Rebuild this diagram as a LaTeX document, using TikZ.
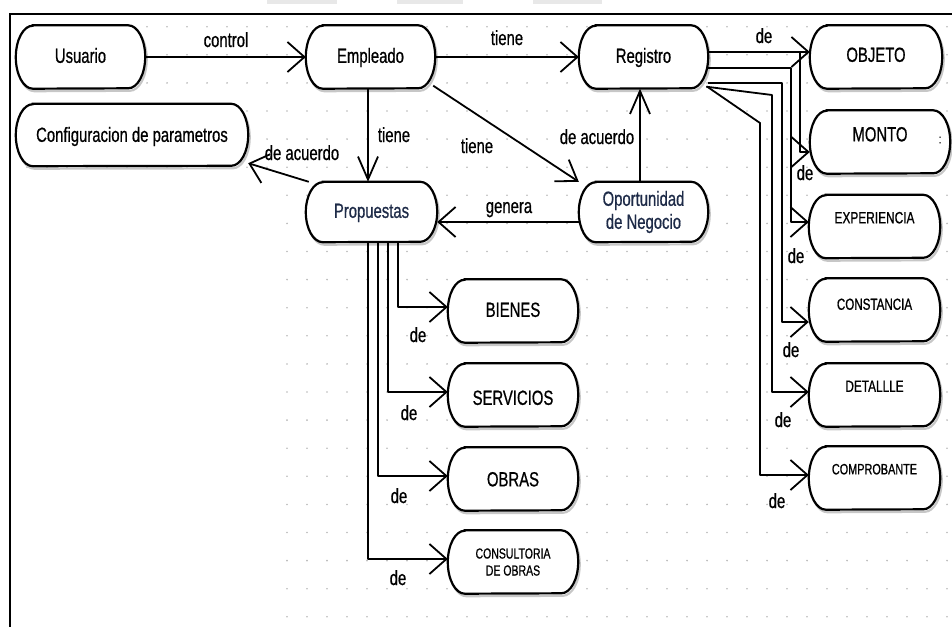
\documentclass[tikz,border=0pt]{standalone}
\usepackage{fontspec}
\setmainfont{Liberation Sans}[FakeStretch=0.725, FakeBold=0.7]
\usetikzlibrary{arrows.meta}
\pgfdeclarelayer{grid}
\pgfdeclarelayer{bg}
\pgfsetlayers{grid,bg,main}

\definecolor{navytext}{HTML}{1E2B48}
\newcommand\fsz[2]{\fontsize{#1}{#2}\selectfont}
\newcommand\prx{17pt}

\tikzset{
  pillnode/.style={minimum width=129pt, minimum height=63pt, inner sep=0pt,
    font=\fsz{20.5pt}{23pt}},
  txtbox/.style 2 args={text height=#1, text depth=#2},
  conn/.style={line width=1.8pt, line join=round},
  harr/.style={conn, -{Straight Barb[length=17pt,width=30pt]}},
  varr/.style={conn, -{Straight Barb[length=23pt,width=20pt]}},
  darr/.style={conn, -{Straight Barb[length=19pt,width=26pt]}},
  lbl/.style={font=\fsz{20.5pt}{23pt}, anchor=base, inner sep=0pt},
  pilloutline/.style={draw, line width=2.2pt, fill=white},
  pillshadow/.style={draw=black!22, line width=2.2pt},
  griddot/.style={fill=black!28},
}

% stadium outline behind a node: #1 half height, #2 node name
\newcommand\pillfor[2][31.5pt]{%
  \begin{pgfonlayer}{bg}
    \draw[pillshadow, transform canvas={xshift=1.5pt,yshift=-2.5pt}]
      ([xshift=\prx]#2.north west) -- ([xshift=-\prx]#2.north east)
      arc[start angle=90, end angle=-90, x radius=\prx, y radius=#1]
      -- ([xshift=\prx]#2.south west)
      arc[start angle=270, end angle=90, x radius=\prx, y radius=#1] -- cycle;
    \draw[pilloutline]
      ([xshift=\prx]#2.north west) -- ([xshift=-\prx]#2.north east)
      arc[start angle=90, end angle=-90, x radius=\prx, y radius=#1]
      -- ([xshift=\prx]#2.south west)
      arc[start angle=270, end angle=90, x radius=\prx, y radius=#1] -- cycle;
  \end{pgfonlayer}}

\begin{document}
\begin{tikzpicture}[x=1pt, y=-1pt]
\useasboundingbox (0,0) rectangle (952,626);

% faint marks above the frame
\fill[black!9] (267,0) rectangle (337,4);
\fill[black!9] (397,0) rectangle (463,4);
\fill[black!9] (533,0) rectangle (602,4);

% canvas frame
\draw[line width=2pt] (970,14) -- (10,14) -- (10,650);

% dotted canvas grid
\begin{pgfonlayer}{grid}
  \foreach \k in {0,...,5}{
    \foreach \j in {1,...,47}{
      \fill[griddot] (7+20*\j, 26.7+28.1*\k) circle[radius=0.9pt];}}
  \foreach \k in {6,...,21}{
    \foreach \j in {14,...,47}{
      \fill[griddot] (7+20*\j, 26.7+28.1*\k) circle[radius=0.9pt];}}
\end{pgfonlayer}

% nodes
\node[pillnode, txtbox={14.7pt}{3pt}] (usr) at (80.5,57) {Usuario};
\node[pillnode, txtbox={14.7pt}{3pt}] (emp) at (370.5,57) {Empleado};
\node[pillnode, minimum width=232pt, minimum height=62pt, txtbox={14.7pt}{1pt}] (cfg) at (132,135) {Configuracion de parametros};
\node[pillnode, minimum width=131pt, minimum height=60pt, txtbox={14.7pt}{3pt}, text=navytext] (prop) at (371.5,212) {Propuestas};
\node[pillnode, txtbox={14.7pt}{3pt}] (reg) at (643.5,57) {Registro};
\node[pillnode, minimum height=60pt, align=center, text=navytext] (opo) at (643.5,212) {Oportunidad\\de Negocio};
\node[pillnode, minimum width=132pt, txtbox={14.7pt}{5pt}] (obj) at (876,57) {OBJETO};
\node[pillnode, minimum width=140pt, txtbox={14.7pt}{16pt}] (monto) at (880,142) {MONTO};
\node[pillnode, minimum width=131pt, font=\fsz{16.4pt}{18pt}, txtbox={11.7pt}{18pt}] (exp) at (874.5,226.5) {EXPERIENCIA};
\node[pillnode, minimum width=131pt, font=\fsz{16pt}{18pt}, txtbox={11.5pt}{12pt}] (cons) at (874.5,310) {CONSTANCIA};
\node[pillnode, minimum width=131pt, font=\fsz{16.3pt}{18pt}, txtbox={11.7pt}{18pt}] (det) at (874.5,395) {DETALLLE};
\node[pillnode, minimum width=131pt, font=\fsz{15pt}{17pt}, txtbox={10.7pt}{18pt}] (comp) at (874.5,478) {COMPROBANTE};
\node[pillnode, minimum width=130pt, txtbox={14.7pt}{3pt}] (bien) at (513,311) {BIENES};
\node[pillnode, minimum width=130pt, txtbox={19.7pt}{0pt}] (serv) at (513,395) {SERVICIOS};
\node[pillnode, minimum width=130pt, txtbox={14.7pt}{0pt}] (obras) at (513,479) {OBRAS};
\node[pillnode, minimum width=130pt, align=center, font=\fsz{14.5pt}{17pt}] (consu) at (513,562) {CONSULTORIA\\DE OBRAS};
\node[font=\fsz{13pt}{14pt}, inner sep=0pt] (mcolon) at (940,140) {:};

\pillfor{usr}
\pillfor{emp}
\pillfor[31pt]{cfg}
\pillfor[30pt]{prop}
\pillfor{reg}
\pillfor[30pt]{opo}
\pillfor{obj}
\pillfor{monto}
\pillfor{exp}
\pillfor{cons}
\pillfor{det}
\pillfor{comp}
\pillfor{bien}
\pillfor{serv}
\pillfor{obras}
\pillfor{consu}

% connectors
\draw[harr] (usr) -- (emp);
\draw[harr] (emp) -- (reg);
\draw[varr] ([xshift=-2.5pt]emp.south) -- ([xshift=-2.5pt]emp.south |- prop.north);
\draw[darr] ([xshift=-2pt,yshift=3pt]emp.south east) -- (opo.north west);
\draw[harr] ([xshift=3pt]prop.north west) -- ([yshift=3pt]cfg.south east);
\draw[harr] ([yshift=-10pt]opo.west) -- ([yshift=-10pt]opo.west -| prop.east);
\draw[varr] ([xshift=-3.5pt]opo.north) -- ([xshift=-3.5pt]reg.south);

\draw[harr] ([yshift=5pt]reg.east) -- ([yshift=5pt]reg.east -| obj.west);
\draw[harr] ([yshift=5pt]reg.east) -| ([xshift=-10pt,yshift=-10pt]monto.west) -- ([yshift=-10pt]monto.west);
\draw[harr] ([yshift=-11pt]reg.east) -| ([xshift=-18pt,yshift=4.5pt]exp.west) -- ([yshift=4.5pt]exp.west);
\draw[harr] ([yshift=-26pt]reg.east) -| ([xshift=-27pt,yshift=-12pt]cons.west) -- ([yshift=-12pt]cons.west);
\draw[harr] ([xshift=-2pt,yshift=2pt]reg.south east) -- (772,95) |- ([yshift=3pt]det.west);
\draw[harr] ([xshift=-1pt,yshift=2pt]reg.south east) -- (760,123) |- ([yshift=3pt]comp.west);

\draw[harr] ([xshift=26.5pt]prop.south) |- ([yshift=4pt]bien.west);
\draw[harr] ([xshift=16.5pt]prop.south) |- ([yshift=3pt]serv.west);
\draw[harr] ([xshift=6.5pt]prop.south) |- ([yshift=3pt]obras.west);
\draw[harr] ([xshift=-3.5pt]prop.south) |- ([yshift=3pt]consu.west);

% connector labels
\node[lbl] (lcontrol) at (226,47) {control};
\node[lbl] (ltieneA) at (507,45) {tiene};
\node[lbl] (ldeobj) at (764,43) {de};
\node[lbl] (ltieneB) at (394,142) {tiene};
\node[lbl] (ltieneC) at (477,153) {tiene};
\node[lbl] (lacuA) at (302,160) {de acuerdo};
\node[lbl] (lacuB) at (597,144) {de acuerdo};
\node[lbl] (lgenera) at (509,213) {genera};
\node[lbl] (ldemonto) at (805,180) {de};
\node[lbl] (ldeexp) at (796,263) {de};
\node[lbl] (ldecons) at (791,357) {de};
\node[lbl] (ldedet) at (783,427) {de};
\node[lbl] (ldecomp) at (777,508) {de};
\node[lbl] (ldebien) at (418,342) {de};
\node[lbl] (ldeserv) at (409,420) {de};
\node[lbl] (ldeobras) at (399,503) {de};
\node[lbl] (ldeconsu) at (398,585) {de};
\end{tikzpicture}
\end{document}
